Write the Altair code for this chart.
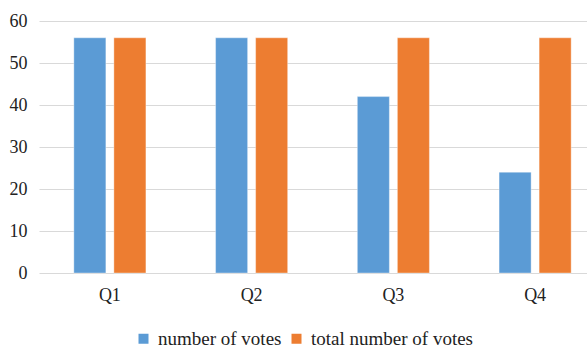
import altair as alt
import pandas as pd

categories = ["Q1", "Q2", "Q3", "Q4"]
series_names = ["number of votes", "total number of votes"]
votes = [56, 56, 42, 24]
total_votes = [56, 56, 56, 56]

rows = []
for c, v, t in zip(categories, votes, total_votes):
    rows.append({"q": c, "series": series_names[0], "value": v})
    rows.append({"q": c, "series": series_names[1], "value": t})
df = pd.DataFrame(rows)

FONT = "Liberation Serif"

chart = alt.Chart(df).mark_bar(stroke="#ffffff", strokeWidth=0.6, strokeOpacity=0.6).encode(
    x=alt.X("q:N", sort=categories, title=None,
            scale=alt.Scale(range=[0, 567], paddingInner=0, paddingOuter=0),
            axis=alt.Axis(labelAngle=0, ticks=False, domain=False, labelPadding=13,
                          labelFont=FONT, labelFontSize=18, labelColor="#222222")),
    xOffset=alt.XOffset("series:N", sort=series_names,
                        scale=alt.Scale(paddingInner=0.2, paddingOuter=0.87)),
    y=alt.Y("value:Q", title=None,
            scale=alt.Scale(domain=[0, 60]),
            axis=alt.Axis(values=[0, 10, 20, 30, 40, 50, 60], ticks=False, domain=False,
                          labelPadding=12, labelFont=FONT, labelFontSize=18,
                          labelColor="#222222", gridColor="#d9d9d9", gridWidth=1)),
    color=alt.Color("series:N", sort=series_names, title=None,
                    scale=alt.Scale(domain=series_names, range=["#5B9BD5", "#ED7D31"]),
                    legend=alt.Legend(orient="none", legendX=95, legendY=308,
                                      direction="horizontal", symbolType="square",
                                      symbolSize=100, symbolStrokeWidth=0,
                                      labelFont=FONT, labelFontSize=19, labelLimit=400,
                                      labelColor="#222222", columnPadding=5,
                                      labelOffset=5)),
).properties(
    width=548, height=252,
    autosize=alt.AutoSizeParams(type="none"),
    padding={"left": 39, "top": 21, "right": 0, "bottom": 75},
).configure(font=FONT).configure_view(stroke=None)

chart.save("out.html", embed_options={"renderer": "svg", "actions": False})
